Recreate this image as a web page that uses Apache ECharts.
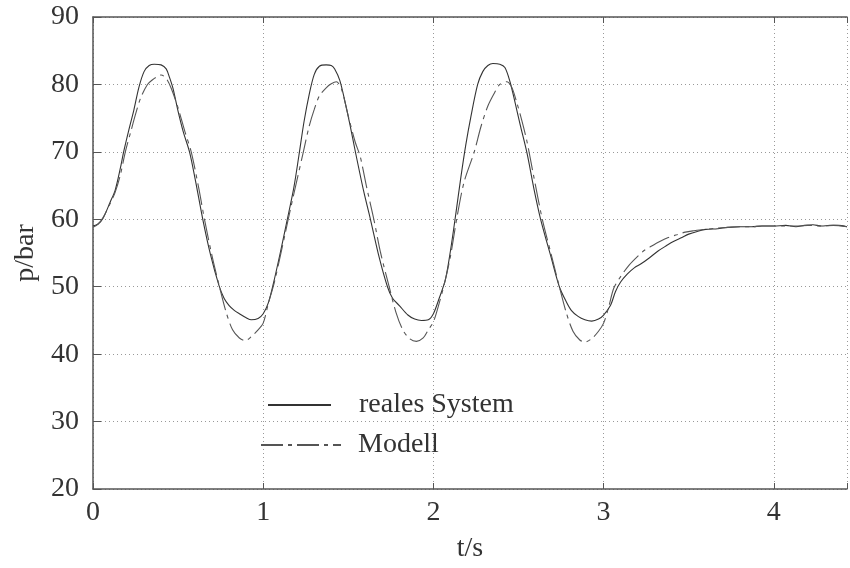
<!DOCTYPE html>
<html>
<head>
<meta charset="utf-8">
<script src="https://cdn.jsdelivr.net/npm/echarts@6/dist/echarts.min.js"></script>
<style>
  html, body { margin: 0; padding: 0; background: #fff; }
  #chart { width: 850px; height: 568px; }
</style>
</head>
<body>
<div id="chart"></div>
<script>
const tReal = [0.00, 0.03, 0.06, 0.10, 0.13, 0.16, 0.18, 0.21, 0.24, 0.27, 0.30, 0.33, 0.36, 0.40, 0.43, 0.45, 0.47, 0.50, 0.53, 0.567, 0.60, 0.645, 0.69, 0.74, 0.77, 0.80, 0.83, 0.86, 0.90, 0.93, 0.97, 1.00,
  1.03, 1.06, 1.10, 1.14, 1.18, 1.21, 1.24, 1.27, 1.30, 1.33, 1.37, 1.40, 1.42, 1.45, 1.48, 1.51, 1.54, 1.59, 1.63, 1.68, 1.73, 1.76, 1.80, 1.85, 1.89, 1.93, 1.97, 2.00,
  2.03, 2.07, 2.10, 2.13, 2.16, 2.19, 2.22, 2.26, 2.29, 2.32, 2.35, 2.39, 2.42, 2.45, 2.48, 2.51, 2.55, 2.59, 2.63, 2.69, 2.74, 2.78, 2.81, 2.85, 2.89, 2.93, 2.97, 3.00,
  3.04, 3.07, 3.10, 3.14, 3.18, 3.22, 3.27, 3.32, 3.37, 3.41, 3.46, 3.50, 3.55, 3.60, 3.67, 3.73, 3.80, 3.87, 3.93, 4.00, 4.07, 4.13, 4.18, 4.23, 4.28, 4.33, 4.38, 4.43];
const pReal = [59.0, 59.3, 60.2, 62.5, 64.3, 67.5, 70.0, 73.2, 76.2, 79.6, 81.9, 82.8, 83.0, 82.9, 82.3, 81.0, 79.4, 76.0, 73.0, 70.0, 66.0, 60.0, 54.8, 50.2, 48.3, 47.2, 46.5, 46.0, 45.4, 45.1, 45.3, 46.0,
  47.6, 50.5, 55.0, 59.8, 64.7, 69.5, 74.5, 78.5, 81.5, 82.7, 82.9, 82.8, 82.3, 80.6, 77.5, 74.0, 70.2, 64.2, 60.0, 54.5, 50.0, 48.3, 47.2, 45.8, 45.2, 45.0, 45.1, 46.0,
  48.0, 51.0, 55.3, 60.5, 66.0, 71.0, 75.2, 80.0, 81.9, 82.8, 83.1, 83.0, 82.5, 80.4, 77.3, 74.0, 69.8, 64.6, 60.0, 54.5, 50.0, 47.8, 46.5, 45.6, 45.1, 44.9, 45.2, 45.8,
  47.2, 49.3, 50.7, 51.9, 52.8, 53.4, 54.3, 55.3, 56.1, 56.7, 57.3, 57.8, 58.2, 58.5, 58.6, 58.8, 58.9, 58.9, 59.0, 59.0, 59.1, 58.9, 59.1, 59.2, 59.0, 59.1, 59.1, 58.9];

const tModel = [0.00, 0.03, 0.06, 0.10, 0.13, 0.16, 0.19, 0.22, 0.25, 0.28, 0.32, 0.35, 0.38, 0.40, 0.43, 0.46, 0.50, 0.54, 0.577, 0.62, 0.655, 0.70, 0.743, 0.78, 0.82, 0.86, 0.895, 0.93, 0.97, 1.00,
  1.03, 1.064, 1.10, 1.13, 1.16, 1.20, 1.236, 1.27, 1.30, 1.33, 1.37, 1.40, 1.43, 1.46, 1.50, 1.54, 1.57, 1.61, 1.65, 1.69, 1.74, 1.78, 1.82, 1.86, 1.90, 1.94, 1.97, 2.00,
  2.03, 2.07, 2.10, 2.14, 2.18, 2.24, 2.28, 2.32, 2.36, 2.39, 2.43, 2.46, 2.49, 2.52, 2.55, 2.59, 2.64, 2.69, 2.74, 2.78, 2.82, 2.86, 2.89, 2.93, 2.97, 3.00,
  3.03, 3.06, 3.10, 3.15, 3.20, 3.24, 3.28, 3.33, 3.38, 3.43, 3.48, 3.53, 3.60, 3.67, 3.73, 3.80, 3.87, 3.93, 4.00, 4.07, 4.13, 4.20, 4.28, 4.35, 4.43];
const pModel = [58.8, 59.3, 60.3, 62.3, 64.0, 66.5, 70.0, 72.8, 75.6, 78.0, 80.0, 80.7, 81.2, 81.4, 80.9, 79.4, 76.5, 73.0, 70.0, 64.8, 60.0, 54.5, 50.0, 46.4, 43.6, 42.4, 42.0, 42.6, 43.6, 44.6,
  47.5, 50.5, 54.5, 58.0, 61.5, 66.0, 70.0, 73.8, 76.3, 78.3, 79.5, 80.1, 80.4, 79.3, 75.3, 71.5, 69.3, 64.5, 60.0, 55.0, 50.0, 46.2, 43.6, 42.3, 41.9, 42.4, 43.6, 44.8,
  47.2, 51.0, 54.5, 60.5, 65.5, 70.0, 73.8, 76.8, 78.8, 80.0, 80.4, 79.6, 77.3, 74.6, 71.5, 66.3, 60.0, 55.0, 50.0, 46.2, 43.4, 42.1, 41.8, 42.3, 43.4, 44.6,
  47.0, 49.8, 51.5, 53.2, 54.5, 55.4, 56.0, 56.7, 57.3, 57.7, 58.1, 58.3, 58.5, 58.7, 58.8, 58.9, 58.9, 59.0, 59.0, 59.0, 59.0, 59.1, 59.0, 59.1, 58.9];

const yTicks = [20, 30, 40, 50, 60, 70, 80, 90];
const xTicks = [0, 1, 2, 3, 4];

const fontFamily = '"Liberation Serif", serif';
const txt = '#333';
const axisCol = '#555';

function pairs(ts, ps) {
  return ts.map(function (t, i) { return [t, ps[i]]; });
}

const chart = echarts.init(document.getElementById('chart'));
chart.setOption({
  animation: false,
  grid: { left: 93, top: 17, right: 0, bottom: 75 },
  legend: [
    {
      data: ['reales System'],
      left: 267, top: 391,
      padding: 0,
      itemWidth: 63, itemHeight: 28,
      itemStyle: { opacity: 0 },
      textStyle: { fontFamily: fontFamily, fontSize: 28, color: txt, padding: [0, 0, 0, 23] }
    },
    {
      data: ['Modell'],
      left: 260, top: 431,
      padding: 0,
      itemWidth: 80, itemHeight: 28,
      itemStyle: { opacity: 0 },
      textStyle: { fontFamily: fontFamily, fontSize: 28, color: txt, padding: [0, 0, 0, 12] }
    }
  ],
  xAxis: [
    {
      type: 'value', min: 0, max: 4.43, interval: 1,
      name: 't/s', nameLocation: 'middle', nameGap: 46,
      nameTextStyle: { fontFamily: fontFamily, fontSize: 28, color: txt },
      axisLine: { show: true, lineStyle: { color: axisCol, width: 1.5 } },
      axisTick: { show: true, inside: true, length: 6, lineStyle: { color: axisCol } },
      axisLabel: {
        fontFamily: fontFamily, fontSize: 28, color: txt, margin: 10,
        formatter: function (v) { return xTicks.indexOf(v) >= 0 ? String(v) : ''; }
      },
      splitLine: { show: true, lineStyle: { color: '#999', type: [1, 3], width: 1 } }
    },
    {
      type: 'value', position: 'top', min: 0, max: 4.43, interval: 1,
      axisLine: { show: true, lineStyle: { color: axisCol, width: 1.5 } },
      axisTick: { show: true, inside: true, length: 6, lineStyle: { color: axisCol } },
      axisLabel: { show: false },
      splitLine: { show: false }
    }
  ],
  yAxis: {
    type: 'value', min: 20, max: 90, interval: 10,
    name: 'p/bar', nameLocation: 'middle', nameGap: 53, nameRotate: 90,
    nameTextStyle: { fontFamily: fontFamily, fontSize: 28, color: txt },
    axisLine: { show: true, lineStyle: { color: axisCol, width: 1.5 } },
    axisTick: { show: true, inside: true, length: 8, lineStyle: { color: axisCol } },
    axisLabel: {
      fontFamily: fontFamily, fontSize: 28, color: txt, margin: 14,
      formatter: function (v) { return yTicks.indexOf(v) >= 0 ? String(v) : ''; }
    },
    splitLine: { show: true, lineStyle: { color: '#999', type: [1, 3], width: 1 } }
  },
  series: [
    {
      name: 'reales System',
      type: 'line',
      data: pairs(tReal, pReal),
      smooth: 0.3,
      symbol: 'none',
      color: '#333',
      lineStyle: { color: '#333', width: 1.1 }
    },
    {
      name: 'Modell',
      type: 'line',
      data: pairs(tModel, pModel),
      smooth: 0.3,
      symbol: 'none',
      color: '#555',
      lineStyle: { color: '#555', width: 1.1, type: [22, 5, 4, 5] }
    }
  ]
});
</script>
</body>
</html>
